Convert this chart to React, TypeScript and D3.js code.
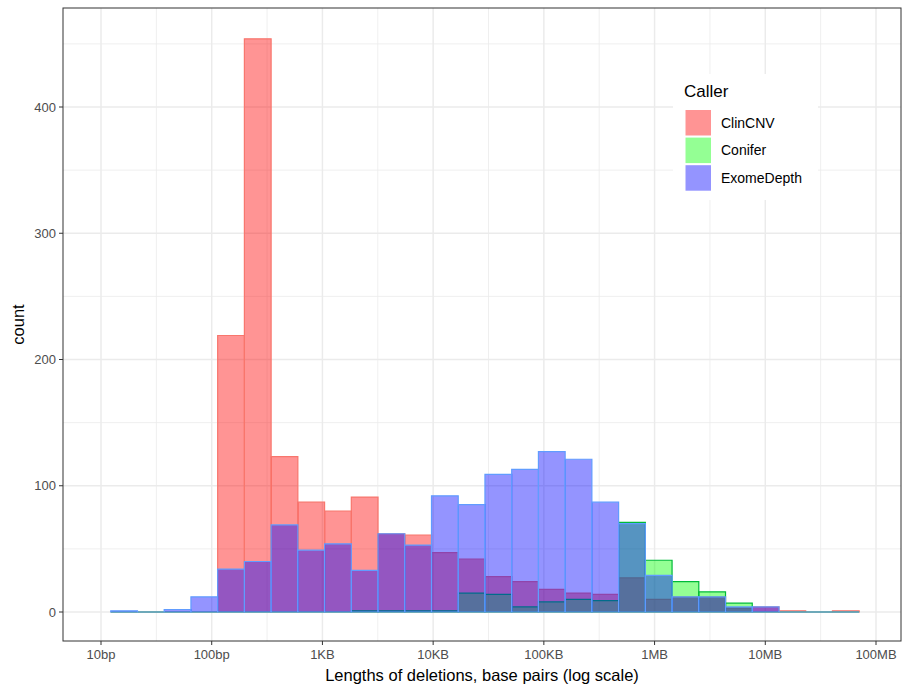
import * as d3 from "d3";

// log10(bp) of the first bin edge and width of each bin (shared by all callers)
const BIN_START = 1.088;
const BIN_WIDTH = 0.24143;

const CALLERS = ["ClinCNV", "Conifer", "ExomeDepth"];
const FILLS = ["#FF0000", "#00FF00", "#0000FF"];
const OUTLINES = ["#F8766D", "#00BA38", "#619CFF"];

const CLINCNV = [0, 0, 0, 0, 219, 454, 123, 87, 80, 91, 62, 61, 47, 42, 28, 24, 18, 15, 14, 27, 10, 12, 12, 3, 4, 1, 0, 1];
const CONIFER = [0, 0, 0, 0, 0, 0, 0, 0, 0, 1, 1, 1, 1, 15, 14, 4, 8, 10, 9, 71, 41, 24, 16, 7, 0, 0, 0, 0];
const EXOMEDEPTH = [1, 0, 2, 12, 34, 40, 69, 49, 54, 33, 62, 53, 92, 85, 109, 113, 127, 121, 87, 70, 29, 12, 12, 4, 4, 0, 0, 0];

const X_TICKS = [1e1, 1e2, 1e3, 1e4, 1e5, 1e6, 1e7, 1e8];
const X_LABELS = ["10bp", "100bp", "1KB", "10KB", "100KB", "1MB", "10MB", "100MB"];
const Y_TICKS = [0, 100, 200, 300, 400];
const Y_MINOR = [50, 150, 250, 350, 450];

const W = 903;
const H = 685;
const panel = { left: 63, right: 901, top: 8, bottom: 641 };
const FONT = "'Liberation Sans', Arial, sans-serif";

export default function App() {
  const x = d3.scaleLog().domain([1e1, 1e8]).range([101, 876]);
  const y = d3.scaleLinear().domain([0, 400]).range([612, 107]);
  const xMinor = d3.range(0, 9).map((k) => Math.pow(10, k + 0.5)).filter((v) => {
    const px = x(v);
    return px > panel.left && px < panel.right;
  });

  const series = [CLINCNV, CONIFER, EXOMEDEPTH];
  const edge = (i: number) => Math.pow(10, BIN_START + i * BIN_WIDTH);

  return (
    <svg
      width={W}
      height={H}
      style={{ position: "absolute", left: 0, top: 0, background: "#fff" }}
      fontFamily={FONT}
    >
      <rect x={0} y={0} width={W} height={H} fill="#fff" />
      {/* grid */}
      <g>
        {Y_MINOR.map((v) => (
          <line key={"ym" + v} x1={panel.left} x2={panel.right} y1={y(v)} y2={y(v)} stroke="#EBEBEB" strokeWidth={0.8} />
        ))}
        {xMinor.map((v) => (
          <line key={"xm" + v} y1={panel.top} y2={panel.bottom} x1={x(v)} x2={x(v)} stroke="#EBEBEB" strokeWidth={0.8} />
        ))}
        {Y_TICKS.map((v) => (
          <line key={"y" + v} x1={panel.left} x2={panel.right} y1={y(v)} y2={y(v)} stroke="#EBEBEB" strokeWidth={1.5} />
        ))}
        {X_TICKS.map((v) => (
          <line key={"x" + v} y1={panel.top} y2={panel.bottom} x1={x(v)} x2={x(v)} stroke="#EBEBEB" strokeWidth={1.5} />
        ))}
      </g>
      {/* bars (zero counts still draw their outline along the baseline) */}
      {series.map((counts, s) => (
        <g key={CALLERS[s]}>
          {counts.map((c, i) => {
            const x0 = x(edge(i));
            const x1 = x(edge(i + 1));
            const y0 = y(0);
            const y1 = y(c);
            return (
              <path
                key={i}
                d={`M${x0},${y0}V${y1}H${x1}V${y0}Z`}
                fill={FILLS[s]}
                fillOpacity={0.42}
                stroke={OUTLINES[s]}
                strokeWidth={1.2}
              />
            );
          })}
        </g>
      ))}
      {/* panel border */}
      <rect
        x={panel.left}
        y={panel.top}
        width={panel.right - panel.left}
        height={panel.bottom - panel.top}
        fill="none"
        stroke="#333"
        strokeWidth={1}
      />
      {/* y axis */}
      {Y_TICKS.map((v) => (
        <g key={"yt" + v}>
          <line x1={panel.left - 4} x2={panel.left} y1={y(v)} y2={y(v)} stroke="#333" strokeWidth={1} />
          <text x={panel.left - 7} y={y(v)} dy="0.35em" textAnchor="end" fontSize={13} fill="#4D4D4D">
            {v}
          </text>
        </g>
      ))}
      {/* x axis */}
      {X_TICKS.map((v, i) => (
        <g key={"xt" + v}>
          <line x1={x(v)} x2={x(v)} y1={panel.bottom} y2={panel.bottom + 4} stroke="#333" strokeWidth={1} />
          <text x={x(v)} y={panel.bottom + 18} textAnchor="middle" fontSize={13} fill="#4D4D4D">
            {X_LABELS[i]}
          </text>
        </g>
      ))}
      <text x={(panel.left + panel.right) / 2} y={681} textAnchor="middle" fontSize={16.5} fill="#000">
        Lengths of deletions, base pairs (log scale)
      </text>
      <text
        transform={`translate(24,${(panel.top + panel.bottom) / 2}) rotate(-90)`}
        textAnchor="middle"
        fontSize={16.5}
        fill="#000"
      >
        count
      </text>
      {/* legend */}
      <g>
        <rect x={673} y={74} width={145} height={126} fill="#fff" />
        <text x={684} y={97} fontSize={17} fill="#000">
          Caller
        </text>
        {CALLERS.map((name, s) => (
          <g key={"lg" + name}>
            <rect x={685.5} y={110 + s * 27.6} width={25.5} height={25.5} fill={FILLS[s]} fillOpacity={0.42} />
            <text x={721} y={110 + s * 27.6 + 12.75} dy="0.35em" fontSize={14} fill="#000">
              {name}
            </text>
          </g>
        ))}
      </g>
    </svg>
  );
}
